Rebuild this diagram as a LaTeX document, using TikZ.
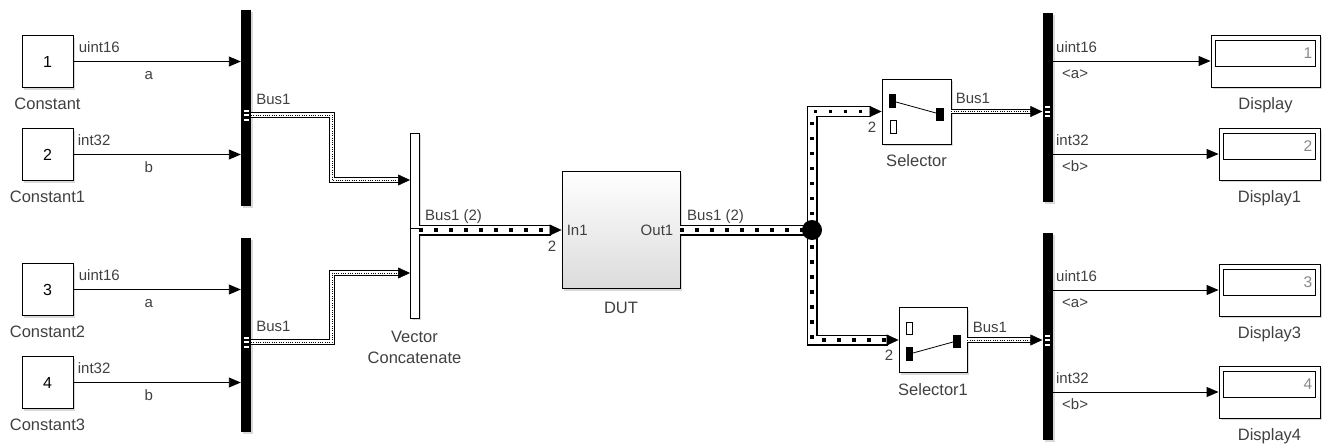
\documentclass[tikz,border=0pt]{standalone}
\usepackage{fontspec}
\setmainfont{Liberation Sans}
\usetikzlibrary{positioning,arrows.meta,shadows}

\definecolor{lblgray}{HTML}{404040}
\definecolor{numgray}{HTML}{8A8A8A}

\begin{document}
\begin{tikzpicture}[x=1pt,y=-1pt,
  blk/.style={draw, line width=0.9pt, fill=white, inner sep=0pt,
    drop shadow={shadow xshift=2pt, shadow yshift=-2pt, opacity=0.3}},
  const/.style={blk, minimum width=51pt, minimum height=52pt, font=\fontsize{16}{18}\selectfont},
  busbar/.style={fill=black, inner sep=0pt, minimum width=10pt,
    drop shadow={shadow xshift=2pt, shadow yshift=-2pt, opacity=0.3}},
  vcat/.style={blk, minimum width=9pt, minimum height=185pt},
  selbox/.style={blk, minimum width=69pt, minimum height=65pt},
  disp/.style={blk, minimum height=52pt},
  blkname/.style={inner sep=0pt, text=lblgray, font=\fontsize{16.5}{21}\selectfont},
  sig/.style={inner sep=0pt, text=lblgray, font=\fontsize{15}{17}\selectfont},
  dval/.style={inner sep=0pt, text=numgray, font=\fontsize{15.5}{17}\selectfont},
  wire/.style={line width=0.9pt, -{Triangle[length=12pt,width=10pt]}},
  vbus/.style={preaction={draw=black, solid, line width=5.5pt},
    preaction={draw=white, solid, line width=3.5pt},
    draw=black, line width=0.8pt, dash pattern=on 0.8pt off 1.5pt, line join=miter},
  nvbus/.style={preaction={draw=black, solid, line width=11pt},
    preaction={draw=white, solid, line width=8.6pt},
    draw=black, line width=3.5pt, dash pattern=on 3.5pt off 11.5pt, line join=miter},
  bustip/.style={-{Triangle[length=12pt,width=11pt]}, line width=0.5pt},
  junc/.style={circle, fill=black, minimum size=20pt, inner sep=0pt},
  portmark/.style={fill=white, draw=black, line width=0.4pt}
]
\useasboundingbox (0,0) rectangle (1324,445);

% source constants
\node[const] (c1) at (47.5,61.5) {1};
\node[blkname, below=10pt of c1] (c1n) {Constant};
\node[const] (c2) at (47.5,154.5) {2};
\node[blkname, below=10pt of c2] (c2n) {Constant1};
\node[const] (c3) at (47.5,289.5) {3};
\node[blkname, below=10pt of c3] (c3n) {Constant2};
\node[const] (c4) at (47.5,382.5) {4};
\node[blkname, below=10pt of c4] (c4n) {Constant3};

% bus creators
\node[busbar, minimum height=196pt] (bc1) at (246,108) {};
\node[busbar, minimum height=194pt] (bc2) at (246,335) {};
\coordinate (bc1o) at (251,115);
\coordinate (bc2o) at (251,342);

% vector concatenate and DUT
\node[vcat] (vc) at (414.5,225.5) {};
\draw[line width=0.8pt] ([yshift=-2.5pt]vc.west) -- ([yshift=-2.5pt]vc.east);
\node[blkname, below=12pt of vc, align=center] (vcn) {Vector\\Concatenate};
\coordinate (vcin1) at (410,180);
\coordinate (vcin2) at (410,273);
\node[blk, minimum width=118pt, minimum height=117pt, top color=white, bottom color=black!14] (dut) at (621,230) {};
\node[sig, anchor=west] (dutin) at ([xshift=5pt]dut.west) {In1};
\node[sig, anchor=east] (dutout) at ([xshift=-7pt]dut.east) {Out1};
\node[blkname, below=13pt of dut] (dutn) {DUT};

% selectors
\node[selbox] (sel) at (916.5,111.5) {};
\node[blkname, below=10pt of sel] (seln) {Selector};
\node[selbox, minimum width=68pt] (sel1) at (933,340) {};
\node[blkname, below=10pt of sel1] (sel1n) {Selector1};
\begin{scope}[shift={(sel.center)}]
  \fill (-27.5,-17.5) rectangle (-20.5,-3.5);
  \fill (19.5,-3.5) rectangle (27.5,9.5);
  \draw[line width=0.8pt] (-20.5,-9.5) -- (19.5,1.5);
  \draw[line width=0.8pt] (-26.5,8.5) rectangle (-20.5,21.5);
\end{scope}
\begin{scope}[shift={(sel1.center)}]
  \draw[line width=0.8pt] (-26.5,-17.5) rectangle (-20.5,-5.5);
  \fill (-27,6.5) rectangle (-20,20.5);
  \fill (20,-5.5) rectangle (28,7.5);
  \draw[line width=0.8pt] (-20,13) -- (20,2);
\end{scope}

% bus selectors and displays
\node[busbar, minimum height=189pt] (bs1) at (1047.5,107.5) {};
\node[busbar, minimum height=207pt] (bs2) at (1047.5,336.5) {};
\coordinate (bs1i) at (bs1.west |- sel.east);
\coordinate (bs2i) at (bs2.west |- sel1.east);
\node[disp, minimum width=109pt] (d1) at (1265.5,61) {};
\node[blkname, below=10pt of d1] (d1n) {Display};
\node[disp, minimum width=101pt] (d2) at (1269.5,154) {};
\node[blkname, below=10pt of d2] (d2n) {Display1};
\node[disp, minimum width=101pt] (d3) at (1269.5,290) {};
\node[blkname, below=10pt of d3] (d3n) {Display3};
\node[disp, minimum width=101pt] (d4) at (1269.5,392) {};
\node[blkname, below=10pt of d4] (d4n) {Display4};
\foreach \d/\v in {d1/1, d2/2, d3/3, d4/4} {
  \draw[line width=1.3pt] ([shift={(5pt,-6pt)}]\d.north west) rectangle ([shift={(-5pt,21pt)}]\d.south east);
  \node[dval, anchor=east] (\d-v) at ([shift={(-8pt,-19pt)}]\d.north east) {\v};
}

% signals into bus creators
\draw[wire] (c1.east) -- (c1.east -| bc1.west)
  node[sig, at start, anchor=base west, xshift=5pt, yshift=9pt] (c1t) {uint16}
  node[sig, pos=0.45, anchor=base, yshift=-18pt] (c1s) {a};
\draw[wire] (c2.east) -- (c2.east -| bc1.west)
  node[sig, at start, anchor=base west, xshift=4pt, yshift=9pt] (c2t) {int32}
  node[sig, pos=0.45, anchor=base, yshift=-18pt] (c2s) {b};
\draw[wire] (c3.east) -- (c3.east -| bc2.west)
  node[sig, at start, anchor=base west, xshift=5pt, yshift=9pt] (c3t) {uint16}
  node[sig, pos=0.45, anchor=base, yshift=-18pt] (c3s) {a};
\draw[wire] (c4.east) -- (c4.east -| bc2.west)
  node[sig, at start, anchor=base west, xshift=4pt, yshift=9pt] (c4t) {int32}
  node[sig, pos=0.45, anchor=base, yshift=-18pt] (c4s) {b};

% virtual buses into the concatenation
\draw[vbus] (bc1o)
  node[sig, anchor=base west, xshift=5pt, yshift=11pt] (b1t) {Bus1}
  -| (332,180) -- ([xshift=-11pt]vcin1);
\draw[bustip] ([xshift=-12pt]vcin1) -- (vcin1);
\draw[vbus] (bc2o)
  node[sig, anchor=base west, xshift=5pt, yshift=11pt] (b2t) {Bus1}
  -| (332,273) -- ([xshift=-11pt]vcin2);
\draw[bustip] ([xshift=-12pt]vcin2) -- (vcin2);

% bus array through the DUT
\coordinate (jc) at (812,230);
\draw[nvbus] (vc.east |- dut.west) -- ([xshift=-11pt]dut.west)
  node[sig, at start, anchor=base west, xshift=4pt, yshift=10pt] (vct) {Bus1 (2)};
\draw[bustip] ([xshift=-12pt]dut.west) -- (dut.west)
  node[sig, anchor=base east, xshift=-5pt, yshift=-21pt] (dutd) {2};
\draw[nvbus] (dut.east) -- (jc)
  node[sig, at start, anchor=base west, xshift=5pt, yshift=10pt] (dutt) {Bus1 (2)};
\draw[nvbus] (jc) |- ([xshift=-11pt]sel.west);
\draw[bustip] ([xshift=-12pt]sel.west) -- (sel.west)
  node[sig, anchor=base east, xshift=-5pt, yshift=-21pt] (seld) {2};
\draw[nvbus] (jc) |- ([xshift=-11pt]sel1.west);
\draw[bustip] ([xshift=-12pt]sel1.west) -- (sel1.west)
  node[sig, anchor=base east, xshift=-5pt, yshift=-20pt] (sel1d) {2};
\node[junc] (j) at (jc) {};

% selected buses into bus selectors
\draw[vbus] (sel.east) -- ([xshift=-11pt]bs1i)
  node[sig, at start, anchor=base west, xshift=4pt, yshift=8pt] (selt) {Bus1};
\draw[bustip] ([xshift=-12pt]bs1i) -- (bs1i);
\draw[vbus] (sel1.east) -- ([xshift=-11pt]bs2i)
  node[sig, at start, anchor=base west, xshift=5pt, yshift=8pt] (sel1t) {Bus1};
\draw[bustip] ([xshift=-12pt]bs2i) -- (bs2i);

% port marks on the bus bars
\foreach \p in {bc1o, bc2o}
  \foreach \dy in {-6,-1.5,3}
    \draw[portmark] ([xshift=-8pt]\p) ++(0,\dy) rectangle ++(6,3);
\foreach \p in {bs1i, bs2i}
  \foreach \dy in {-6,-1.5,3}
    \draw[portmark] ([xshift=2pt]\p) ++(0,\dy) rectangle ++(6,3);

% signals out to displays
\draw[wire] (bs1.east |- d1.west) -- (d1.west)
  node[sig, at start, anchor=base west, xshift=3pt, yshift=9pt] (d1t) {uint16}
  node[sig, at start, anchor=base west, xshift=9pt, yshift=-17pt] (d1s) {<a>};
\draw[wire] (bs1.east |- d2.west) -- (d2.west)
  node[sig, at start, anchor=base west, xshift=3pt, yshift=9pt] (d2t) {int32}
  node[sig, at start, anchor=base west, xshift=9pt, yshift=-17pt] (d2s) {<b>};
\draw[wire] (bs2.east |- d3.west) -- (d3.west)
  node[sig, at start, anchor=base west, xshift=3pt, yshift=9pt] (d3t) {uint16}
  node[sig, at start, anchor=base west, xshift=9pt, yshift=-17pt] (d3s) {<a>};
\draw[wire] (bs2.east |- d4.west) -- (d4.west)
  node[sig, at start, anchor=base west, xshift=3pt, yshift=9pt] (d4t) {int32}
  node[sig, at start, anchor=base west, xshift=9pt, yshift=-17pt] (d4s) {<b>};
\end{tikzpicture}
\end{document}
